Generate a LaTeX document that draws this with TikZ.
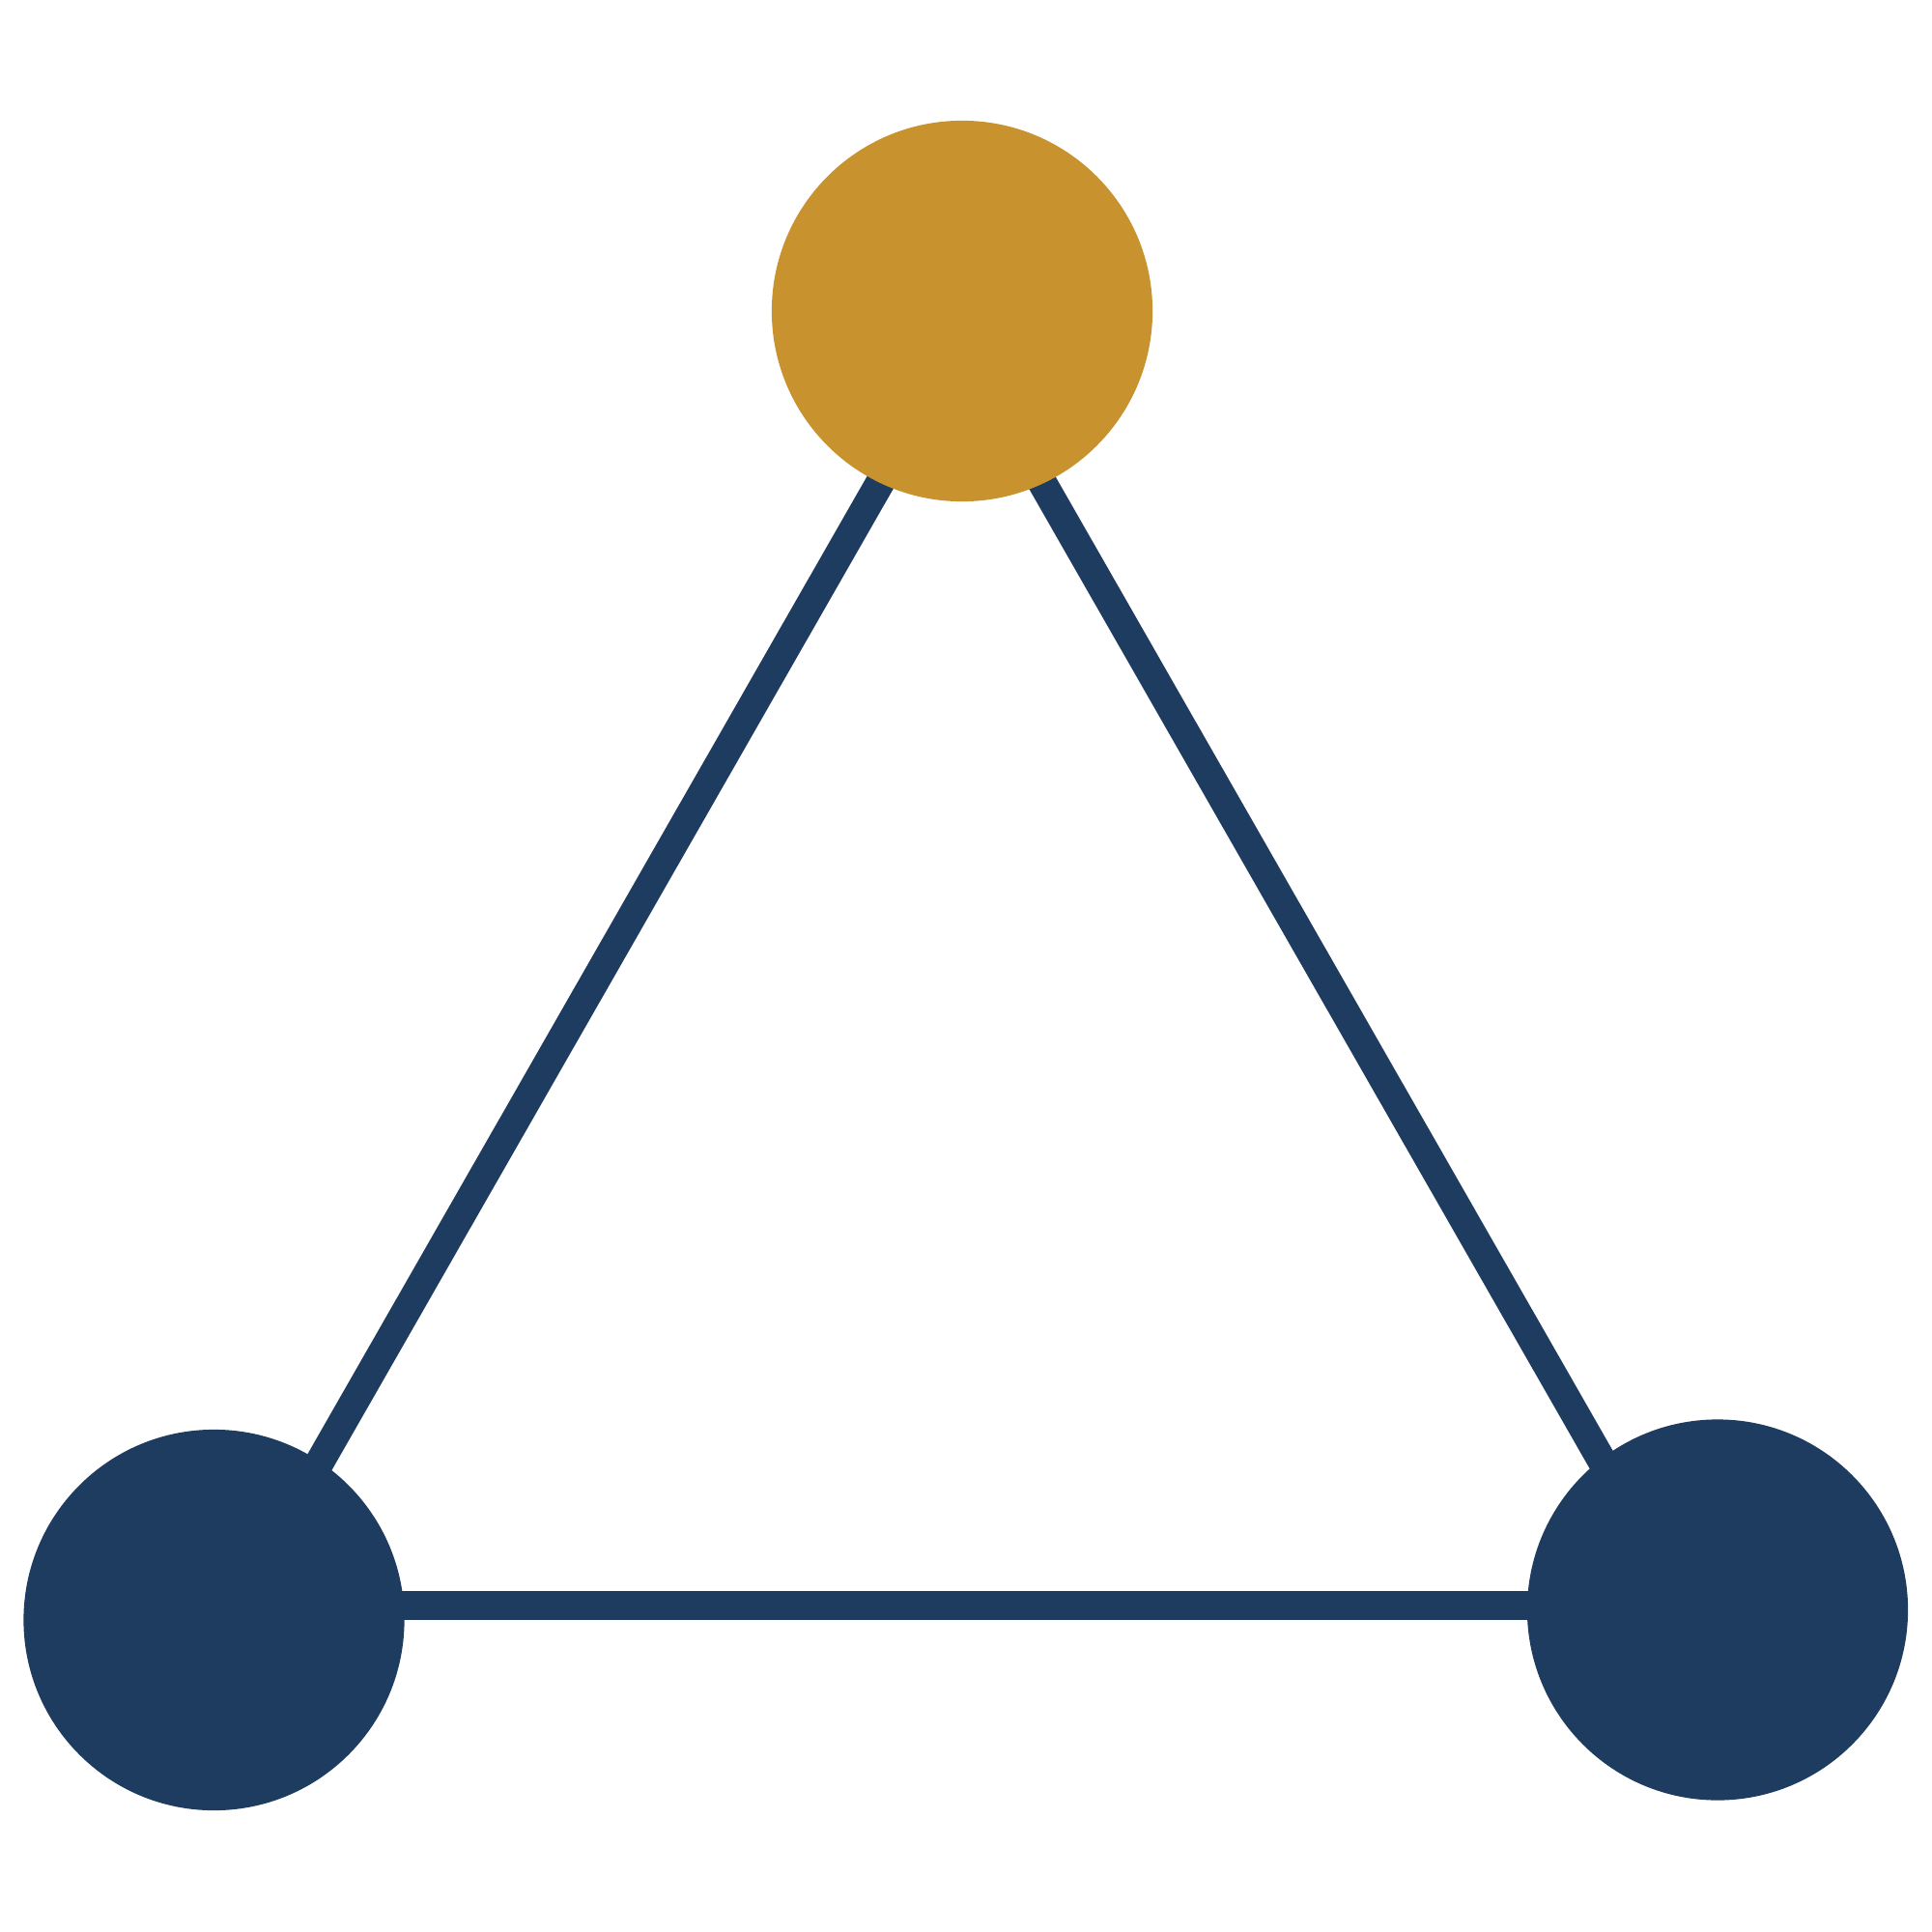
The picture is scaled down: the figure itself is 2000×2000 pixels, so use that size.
\documentclass[tikz,border=0pt]{standalone}
\definecolor{gold}{HTML}{C8932E}
\definecolor{navy}{HTML}{1E3C5F}
\begin{document}
\begin{tikzpicture}[x=0.01cm,y=-0.01cm,
  link/.style={draw=navy,line width=0.3cm},
  dot/.style={circle,inner sep=0pt,minimum size=3.94cm}]
\useasboundingbox (0,0) rectangle (2000,2000);
\coordinate (vt) at (995,353);
\coordinate (vl) at (246,1662);
\coordinate (vr) at (1744,1662);
\draw[link] (vt) -- (vl);
\draw[link] (vt) -- (vr);
\draw[link] (vl) -- (vr);
\node[dot,fill=gold] (top) at (996,322) {};
\node[dot,fill=navy] (left) at (221.5,1677) {};
\node[dot,fill=navy] (right) at (1778,1666.5) {};
\end{tikzpicture}
\end{document}
